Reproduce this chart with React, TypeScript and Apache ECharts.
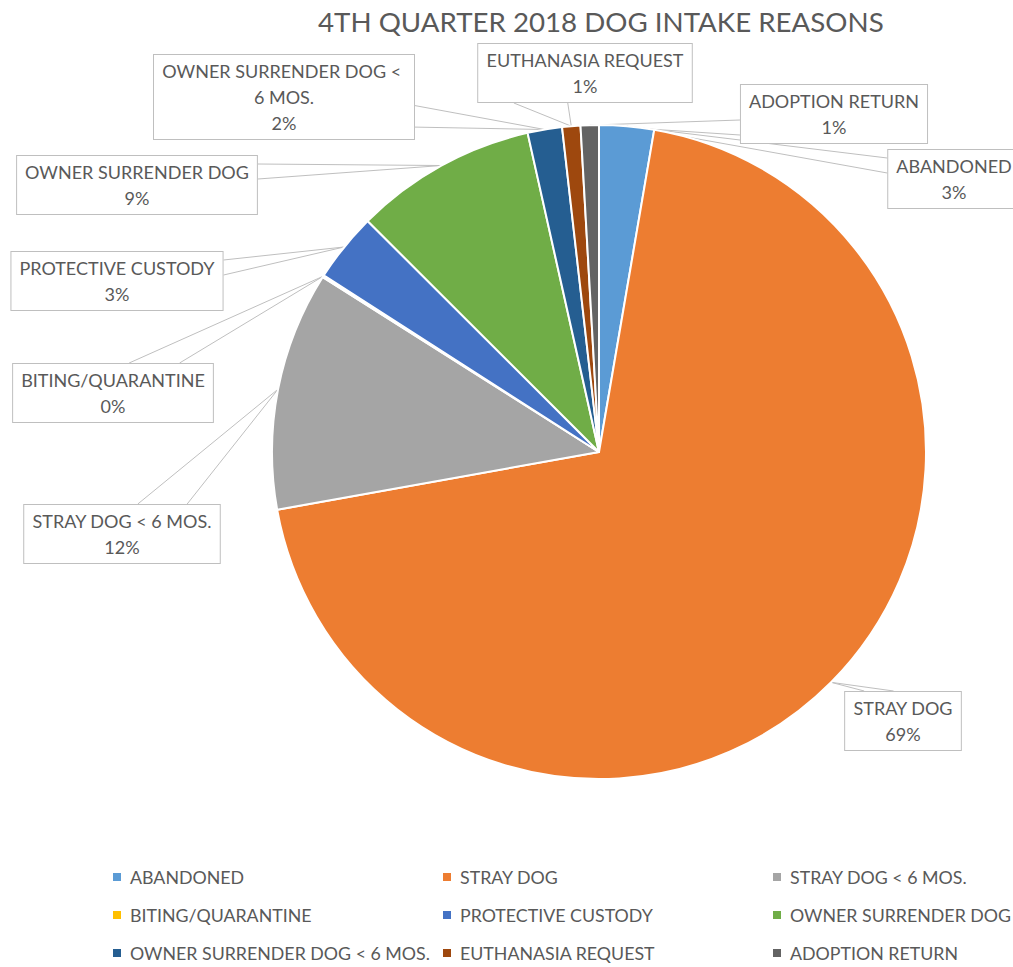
import React, { useEffect, useRef } from 'react';
import * as echarts from 'echarts';

const chartTitle = '4TH QUARTER 2018 DOG INTAKE REASONS';
const categories = [
  'ABANDONED',
  'STRAY DOG',
  'STRAY DOG < 6 MOS.',
  'BITING/QUARANTINE',
  'PROTECTIVE CUSTODY',
  'OWNER SURRENDER DOG',
  'OWNER SURRENDER DOG < 6 MOS.',
  'EUTHANASIA REQUEST',
  'ADOPTION RETURN',
];
const intakeCounts = [27, 694, 118, 1, 34, 90, 17, 9, 9];
const sliceColors = ['#5B9BD5', '#ED7D31', '#A5A5A5', '#FFC000', '#4472C4', '#70AD47', '#255E91', '#9E480E', '#636363'];

// label box centres (layout only)
const labelCenters: [number, number][] = [
  [954, 179],
  [903, 721],
  [122, 534],
  [113, 393],
  [117, 281],
  [137, 185],
  [284, 97],
  [585, 73],
  [834, 114],
];
const legendColumns = [
  [0, 3, 6],
  [1, 4, 7],
  [2, 5, 8],
];
const legendLefts = [113, 443, 773];

const TEXT = '#595959';
const LINE = '#BFBFBF';
const FONT = 'Lato, "Noto Sans", sans-serif';

export default function App() {
  const ref = useRef<HTMLDivElement>(null);
  useEffect(() => {
    if (!ref.current) return;
    const chart = echarts.init(ref.current, null, { renderer: 'svg' });
    const total = intakeCounts.reduce((a, b) => a + b, 0);
    const data = categories.map((name, i) => {
      const item: any = { name, value: intakeCounts[i], itemStyle: { color: sliceColors[i] } };
      if (i === 6) item.label = { width: 244, overflow: 'break' };
      return item;
    });
    const option: any = {
      animation: false,
      backgroundColor: '#fff',
      title: {
        text: chartTitle,
        left: 313,
        top: 2,
        textStyle: { color: TEXT, fontSize: 27.7, fontWeight: 'normal', fontFamily: FONT },
      },
      legend: legendColumns.map((col, c) => ({
        orient: 'vertical',
        left: legendLefts[c],
        top: 867,
        height: 100,
        padding: 0,
        itemWidth: 8,
        itemHeight: 8,
        itemGap: 18,
        icon: 'rect',
        data: col.map((i) => categories[i]),
        itemStyle: { borderWidth: 0 },
        textStyle: { color: TEXT, fontSize: 17.8, fontFamily: FONT, lineHeight: 20, padding: [0, 0, 0, 4] },
        selectedMode: false,
      })),
      series: [
        {
          type: 'pie',
          center: [599, 452],
          radius: 327,
          startAngle: 90,
          clockwise: true,
          avoidLabelOverlap: false,
          itemStyle: { borderColor: '#fff', borderWidth: 2 },
          label: {
            show: true,
            position: 'outside',
            color: TEXT,
            fontFamily: FONT,
            fontSize: 18,
            lineHeight: 26,
            align: 'center',
            backgroundColor: '#fff',
            borderColor: LINE,
            borderWidth: 1,
            padding: [3, 8],
            formatter: (p: any) => `${p.name}\n${Math.round((p.value / total) * 100)}%`,
          },
          labelLine: { show: true, length: 10, length2: 10, lineStyle: { color: LINE, width: 1 } },
          labelLayout: (params: any) => {
            const i = params.dataIndex;
            const [cx, cy] = labelCenters[i];
            const w = params.labelRect.width;
            const h = params.labelRect.height;
            const anchor = params.labelLinePoints ? params.labelLinePoints[0] : [cx, cy];
            const L = cx - w / 2, R = cx + w / 2, T = cy - h / 2, B = cy + h / 2;
            const ox = anchor[0] > R ? anchor[0] - R : anchor[0] < L ? L - anchor[0] : 0;
            const oy = anchor[1] > B ? anchor[1] - B : anchor[1] < T ? T - anchor[1] : 0;
            let p1: number[];
            let p2: number[];
            if (oy / h > ox / w) {
              const yEdge = anchor[1] < T ? T : B;
              const f = anchor[0] > cx ? [0.58, 0.83] : [0.17, 0.42];
              p1 = [L + f[0] * w, yEdge];
              p2 = [L + f[1] * w, yEdge];
            } else {
              const xEdge = anchor[0] > R ? R : L;
              const f = anchor[1] < cy ? [0.15, 0.4] : [0.6, 0.85];
              p1 = [xEdge, T + f[0] * h];
              p2 = [xEdge, T + f[1] * h];
            }
            return {
              x: cx,
              y: cy,
              align: 'center',
              verticalAlign: 'middle',
              labelLinePoints: [p1, anchor, p2],
            };
          },
          data,
        },
      ],
    };
    chart.setOption(option);
    return () => chart.dispose();
  }, []);
  return (
    <div
      ref={ref}
      style={{ position: 'absolute', left: 0, top: 0, width: 1013, height: 967, background: '#fff' }}
    />
  );
}
